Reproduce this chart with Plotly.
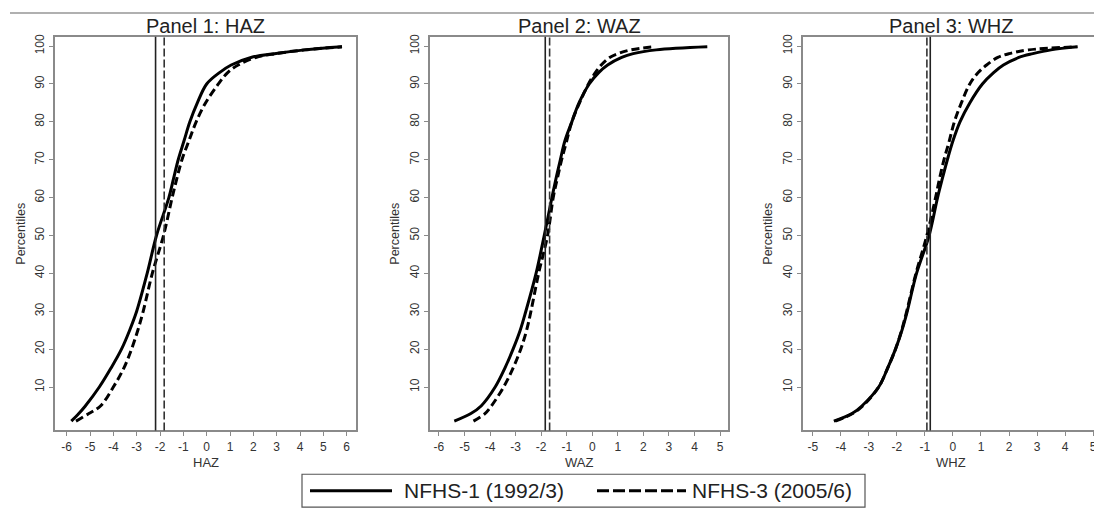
import plotly.graph_objects as go

# ---------------- data ----------------
PCT = [1, 3, 5, 10, 15, 20, 25, 30, 40, 50, 60, 65, 70, 75, 80, 85, 90, 93, 95, 97, 98, 99, 99.8]

HAZ_NFHS1 = [-5.8, -5.48, -5.2, -4.6, -4.1, -3.65, -3.3, -3.0, -2.55, -2.15, -1.62, -1.42, -1.22, -0.97, -0.72, -0.4, 0.0, 0.55, 1.05, 1.9, 2.9, 4.2, 5.8]
HAZ_NFHS3 = [-5.6, -5.05, -4.55, -4.0, -3.55, -3.22, -2.95, -2.72, -2.33, -1.85, -1.48, -1.28, -1.06, -0.76, -0.45, -0.05, 0.5, 0.9, 1.35, 2.1, 2.95, 4.2, 5.8]

WAZ_NFHS1 = [-5.4, -4.75, -4.35, -3.8, -3.42, -3.1, -2.82, -2.6, -2.2, -1.88, -1.58, -1.42, -1.25, -1.07, -0.8, -0.52, -0.12, 0.25, 0.6, 1.15, 1.6, 2.5, 4.5]
WAZ_NFHS3 = [-4.65, -4.2, -3.95, -3.47, -3.1, -2.8, -2.57, -2.4, -2.1, -1.75, -1.53, -1.37, -1.2, -1.0, -0.8, -0.5, -0.15, 0.12, 0.35, 0.68, 1.0, 1.5, 2.4]

WHZ_NFHS1 = [-4.25, -3.6, -3.25, -2.65, -2.33, -2.05, -1.82, -1.63, -1.3, -0.85, -0.55, -0.38, -0.2, 0.0, 0.25, 0.6, 1.05, 1.45, 1.8, 2.35, 2.85, 3.5, 4.45]
WHZ_NFHS3 = [-4.2, -3.58, -3.22, -2.65, -2.33, -2.05, -1.83, -1.65, -1.32, -0.93, -0.62, -0.48, -0.32, -0.13, 0.05, 0.3, 0.6, 0.9, 1.2, 1.6, 2.0, 2.7, 4.4]

MEDIANS_NFHS1 = [-2.19, -1.84, -0.81]
MEDIANS_NFHS3 = [-1.82, -1.67, -0.93]

PANEL_TITLES = ["Panel 1: HAZ", "Panel 2: WAZ", "Panel 3: WHZ"]
X_TITLES = ["HAZ", "WAZ", "WHZ"]
X_TICKS = [list(range(-6, 7)), list(range(-6, 6)), list(range(-5, 6))]
Y_TICKS = [10, 20, 30, 40, 50, 60, 70, 80, 90, 100]
SERIES_NAMES = ["NFHS-1 (1992/3)", "NFHS-3 (2005/6)"]

# ---------------- layout geometry ----------------
OFF = 8                      # page body margin
W, H = 1102 - OFF, 512 - OFF
FONT = "Liberation Sans, Arial, sans-serif"


def fx(px):
    return (px - OFF) / W


def fy(py):
    return 1 - (py - OFF) / H


panel_px = [(55, 356), (430, 728), (803, 1099)]
x_ranges = [[-6.5, 6.4], [-6.35, 5.31], [-5.35, 5.21]]
y_range = [-1.47, 102.44]
ydom = [fy(430), fy(34)]
ytitle_px = [21, 395, 768]

data_pairs = [(HAZ_NFHS1, HAZ_NFHS3), (WAZ_NFHS1, WAZ_NFHS3), (WHZ_NFHS1, WHZ_NFHS3)]

fig = go.Figure()
shapes = []
annotations = []

for i in range(3):
    ax = "" if i == 0 else str(i + 1)
    xref, yref = "x" + ax, "y" + ax
    s1, s3 = data_pairs[i]
    fig.add_trace(go.Scatter(
        x=s1, y=PCT, mode="lines", name=SERIES_NAMES[0],
        line=dict(color="black", width=3, shape="spline", smoothing=1.0),
        xaxis=xref, yaxis=yref, showlegend=False))
    fig.add_trace(go.Scatter(
        x=s3, y=PCT, mode="lines", name=SERIES_NAMES[1],
        line=dict(color="black", width=3, dash="8px,4px", shape="spline", smoothing=1.0),
        xaxis=xref, yaxis=yref, showlegend=False))

    # median lines
    shapes.append(dict(type="line", xref=xref, yref=yref + " domain",
                       x0=MEDIANS_NFHS1[i], x1=MEDIANS_NFHS1[i], y0=0, y1=1,
                       line=dict(color="#222", width=1.6)))
    shapes.append(dict(type="line", xref=xref, yref=yref + " domain",
                       x0=MEDIANS_NFHS3[i], x1=MEDIANS_NFHS3[i], y0=0, y1=1,
                       line=dict(color="#333", width=1.6, dash="8px,3px")))

    x0, x1 = panel_px[i]
    dom = [fx(x0), fx(x1)]
    axis_common = dict(showgrid=False, zeroline=False, showline=True, mirror=True,
                       linecolor="#8a8a8a", linewidth=1.5, ticks="outside",
                       ticklen=4, tickwidth=1, tickcolor="#8a8a8a",
                       tickfont=dict(family=FONT, size=12, color="#333"))
    fig.update_layout(**{
        "xaxis" + ax: dict(domain=dom, range=x_ranges[i], anchor=yref,
                           tickvals=X_TICKS[i], ticktext=[str(v) for v in X_TICKS[i]],
                           **axis_common),
        "yaxis" + ax: dict(domain=ydom, range=y_range, anchor=xref,
                           tickvals=Y_TICKS, ticktext=[str(v) for v in Y_TICKS],
                           tickangle=-90, **axis_common),
    })

    cx = fx((x0 + x1) / 2)
    annotations.append(dict(text=PANEL_TITLES[i], x=cx, y=fy(23), xref="paper", yref="paper",
                            showarrow=False, xanchor="center", yanchor="middle",
                            font=dict(family=FONT, size=20, color="#222")))
    annotations.append(dict(text=X_TITLES[i], x=cx, y=fy(462), xref="paper", yref="paper",
                            showarrow=False, xanchor="center", yanchor="middle",
                            font=dict(family=FONT, size=13, color="#333")))
    annotations.append(dict(text="Percentiles", x=fx(ytitle_px[i]), y=fy(232),
                            xref="paper", yref="paper", textangle=-90,
                            showarrow=False, xanchor="center", yanchor="middle",
                            font=dict(family=FONT, size=12.5, color="#333")))

# top gray rule
shapes.append(dict(type="line", xref="paper", yref="paper", x0=fx(10), x1=1, y0=fy(10), y1=fy(10),
                   line=dict(color="#b0b0b0", width=2)))

# legend (drawn as a key box)
shapes.append(dict(type="rect", xref="paper", yref="paper", x0=fx(302), x1=fx(865),
                   y0=fy(507), y1=fy(474), line=dict(color="#555", width=1.2), fillcolor="white"))
ly = fy(490.5)
shapes.append(dict(type="line", xref="paper", yref="paper", x0=fx(310), x1=fx(392), y0=ly, y1=ly,
                   line=dict(color="black", width=3)))
shapes.append(dict(type="line", xref="paper", yref="paper", x0=fx(597), x1=fx(686), y0=ly, y1=ly,
                   line=dict(color="black", width=3, dash="12px,4px")))
annotations.append(dict(text=SERIES_NAMES[0], x=fx(402), y=ly, xref="paper", yref="paper",
                        showarrow=False, xanchor="left", yanchor="middle",
                        font=dict(family=FONT, size=21, color="#222")))
annotations.append(dict(text=SERIES_NAMES[1], x=fx(690), y=ly, xref="paper", yref="paper",
                        showarrow=False, xanchor="left", yanchor="middle",
                        font=dict(family=FONT, size=21, color="#222")))

fig.update_layout(
    width=W, height=H,
    margin=dict(l=0, r=0, t=0, b=0),
    paper_bgcolor="white", plot_bgcolor="white",
    shapes=shapes, annotations=annotations,
    showlegend=False,
)

fig.write_html("out.html")
